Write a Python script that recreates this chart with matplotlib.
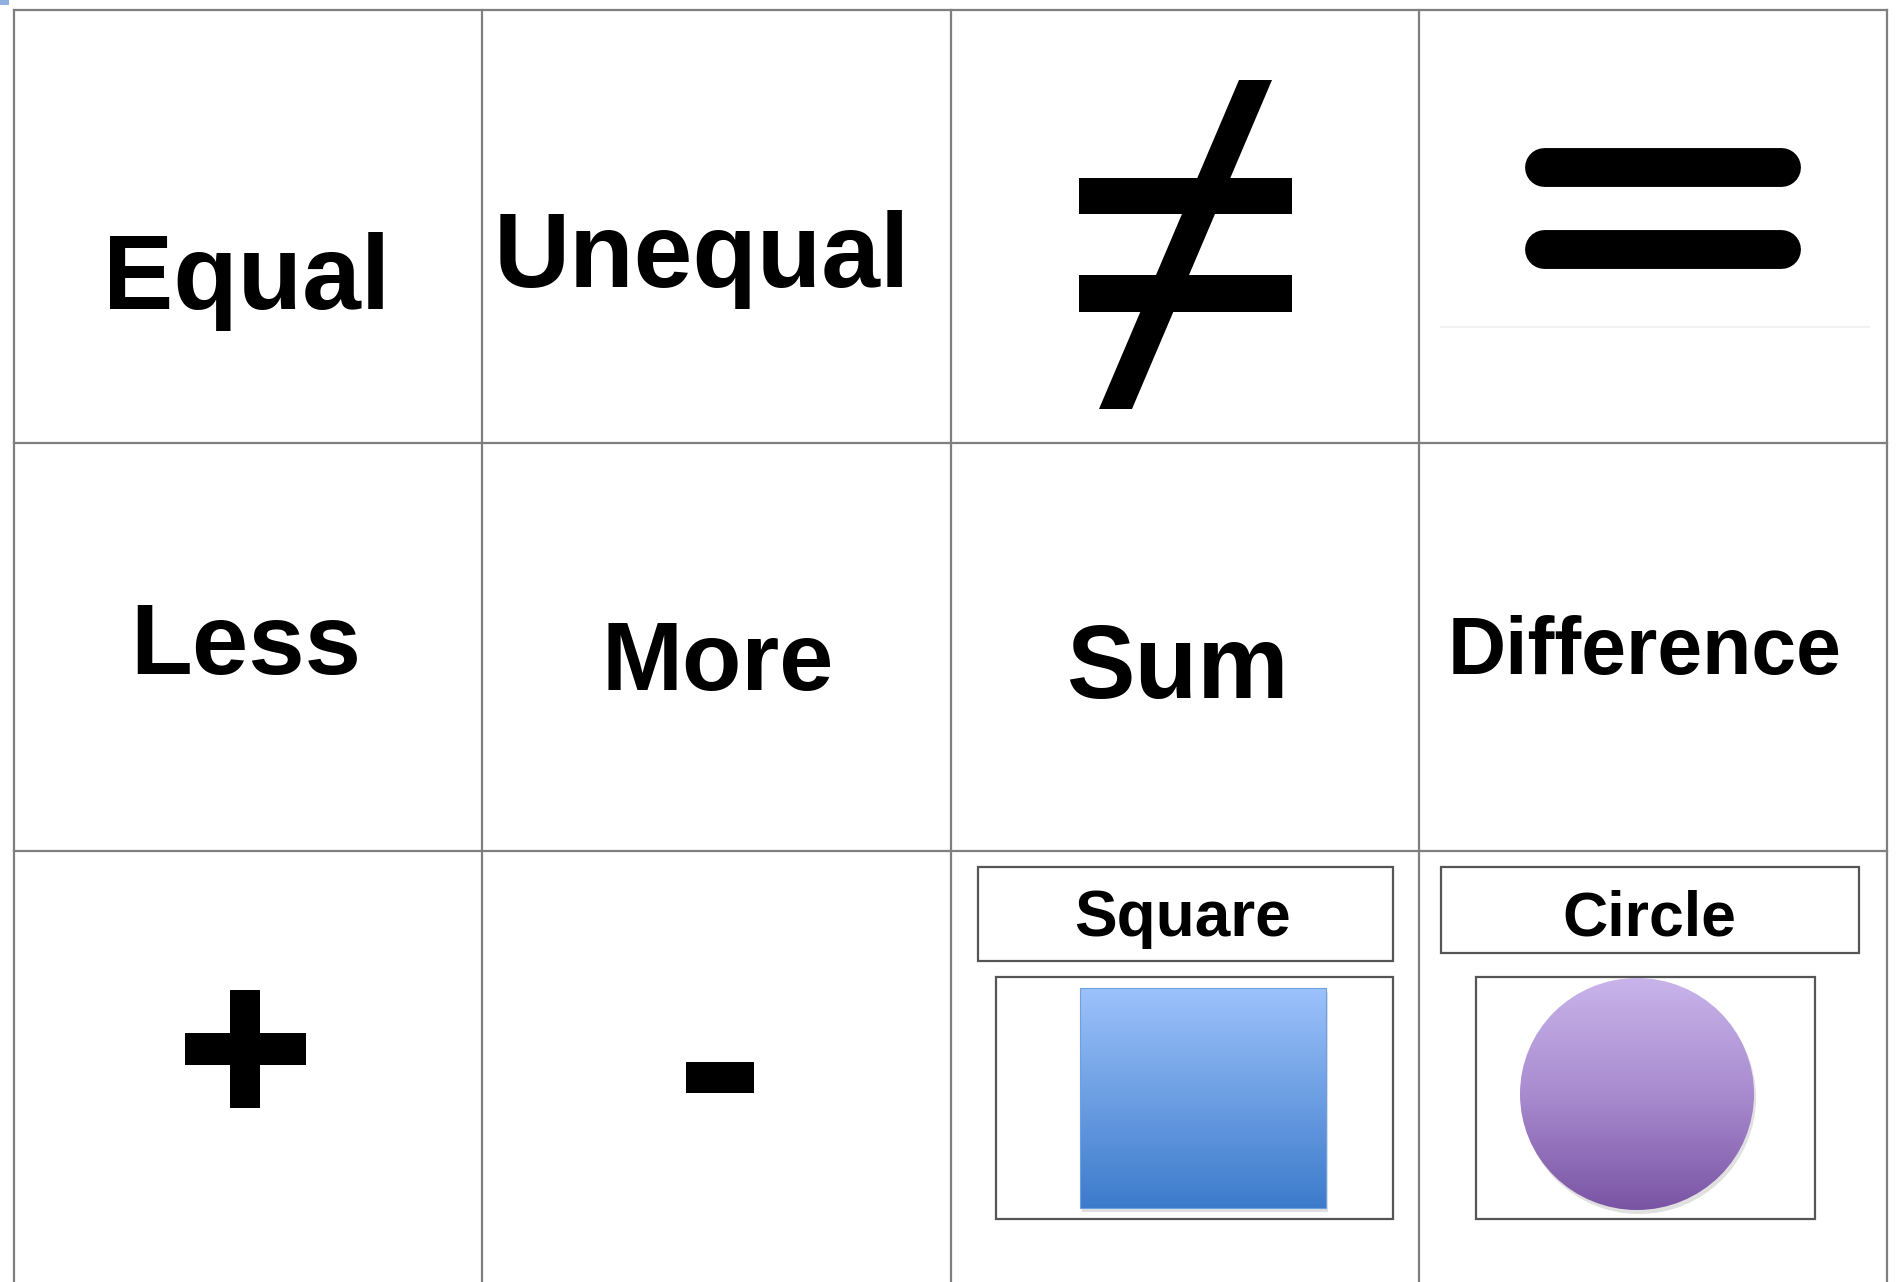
import numpy as np
import matplotlib
matplotlib.use("Agg")
import matplotlib.pyplot as plt
from matplotlib.patches import Rectangle, Polygon, Ellipse
from matplotlib.colors import LinearSegmentedColormap

plt.rcParams['font.family'] = ['Liberation Sans', 'DejaVu Sans']

# === Card contents ===
word_labels = ["Equal", "Unequal", "Less", "More", "Sum", "Difference"]
word_sizes = [76, 76, 73, 70, 74, 58]
word_xy = [(247, 309), (702, 287), (246, 674), (718, 690), (1177, 698), (1645, 674)]
shape_labels = ["Square", "Circle"]

# === Grid geometry (pixels) ===
W, H = 1898, 1282
col_edges = [14, 482, 951, 1419, 1887]
row_edges = [10, 443, 851]

fig = plt.figure(figsize=(W / 100, H / 100), dpi=100)
ax = fig.add_axes([0, 0, 1, 1])
ax.set_xlim(0, W)
ax.set_ylim(H, 0)
ax.axis("off")

grid_kw = dict(color="#7f7f7f", lw=1.6, zorder=1)
for x in col_edges:
    ax.plot([x, x], [row_edges[0], H], **grid_kw)
for y in row_edges:
    ax.plot([col_edges[0], col_edges[-1]], [y, y], **grid_kw)

# tiny mark in the top-left corner
ax.add_patch(Rectangle((0, 0), 9, 5, color="#8fb0e0", lw=0))

# === Words ===
for label, (x, y), fs in zip(word_labels, word_xy, word_sizes):
    ax.text(x, y, label, fontsize=fs, fontweight="bold", ha="center",
            va="baseline", color="black")

# === Not-equal sign ===
ax.add_patch(Rectangle((1079, 178), 213, 36, color="black", lw=0))
ax.add_patch(Rectangle((1079, 275), 213, 37, color="black", lw=0))
ax.add_patch(Polygon([(1239, 80), (1272, 80), (1132, 409), (1099, 409)],
                     closed=True, color="black", lw=0))

# === Equal sign (rounded bars) ===
for yc in [166.5, 248.5]:
    ax.plot([1544, 1781], [yc, yc], color="black", lw=28,
            solid_capstyle="round")
ax.plot([1441, 1869], [327, 327], color="#f2f2f2", lw=1.5)

# === Plus and minus ===
ax.add_patch(Rectangle((230, 990), 30, 118, color="black", lw=0))
ax.add_patch(Rectangle((185, 1033), 121, 32, color="black", lw=0))
ax.add_patch(Rectangle((686, 1062), 68, 31, color="black", lw=0))

# === Shape cards ===
box_kw = dict(fill=False, ec="#555555", lw=1.6, zorder=2)
ax.add_patch(Rectangle((978, 867), 415, 94, **box_kw))
ax.add_patch(Rectangle((996, 977), 397, 242, **box_kw))
ax.add_patch(Rectangle((1441, 867), 418, 86, **box_kw))
ax.add_patch(Rectangle((1476, 977), 339, 242, **box_kw))

ax.text(1183, 936, shape_labels[0], fontsize=46, fontweight="bold",
        ha="center", va="baseline")
ax.text(1649, 936, shape_labels[1], fontsize=45, fontweight="bold",
        ha="center", va="baseline")

grad = np.linspace(0, 1, 256).reshape(-1, 1)

# square with blue gradient
blue = LinearSegmentedColormap.from_list("blue", ["#9cc2fb", "#3c7bcb"])
ax.add_patch(Rectangle((1082, 992), 246, 220, color="#000000", alpha=0.12,
                       lw=0, zorder=2))
sq = Rectangle((1080, 988), 246, 220, transform=ax.transData)
im = ax.imshow(grad, cmap=blue, extent=(1080, 1326, 1208, 988),
               origin="upper", aspect="auto", zorder=3)
im.set_clip_path(sq)
ax.add_patch(Rectangle((1080, 988), 246, 220, fill=False, ec="#6e9fe0",
                       lw=0.8, zorder=4))

# circle with purple gradient
purple = LinearSegmentedColormap.from_list("purple", ["#c9b4ea", "#a88bcf", "#7a54a4"])
ax.add_patch(Ellipse((1639, 1098), 234, 232, color="#000000", alpha=0.12,
                     lw=0, zorder=2))
circ = Ellipse((1637, 1094), 234, 232, transform=ax.transData)
im2 = ax.imshow(grad, cmap=purple, extent=(1520, 1754, 1210, 978),
                origin="upper", aspect="auto", zorder=3)
im2.set_clip_path(circ)

ax.set_xlim(0, W)
ax.set_ylim(H, 0)

fig.savefig("out.png", dpi=100, facecolor="white")
